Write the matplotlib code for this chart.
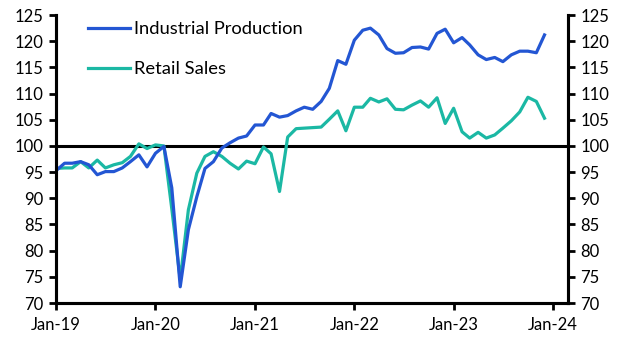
import pandas as pd
import matplotlib
matplotlib.use('Agg')
import matplotlib.pyplot as plt
import matplotlib.dates as mdates

plt.rcParams['font.family'] = ['Lato', 'DejaVu Sans']

# Monthly index values, Jan-19 to Dec-23
dates = pd.date_range('2019-01-01', periods=60, freq='MS')

industrial_production = [
    95.3, 96.7, 96.7, 97.0, 96.4, 94.5, 95.1, 95.1, 95.8, 97.0, 98.3, 96.0,
    98.6, 99.9, 92.0, 73.1, 84.0, 90.3, 95.7, 97.0, 99.6, 100.6, 101.5, 101.9,
    104.0, 104.0, 106.2, 105.5, 105.8, 106.7, 107.4, 107.0, 108.5, 111.0, 116.3, 115.6,
    120.2, 122.1, 122.5, 121.2, 118.6, 117.7, 117.8, 118.8, 118.9, 118.5, 121.5, 122.3,
    119.7, 120.7, 119.3, 117.4, 116.5, 116.9, 116.1, 117.4, 118.1, 118.1, 117.8, 121.2,
]

retail_sales = [
    95.7, 95.8, 95.8, 97.0, 95.8, 97.3, 95.8, 96.4, 96.8, 98.0, 100.4, 99.5,
    100.2, 100.0, 88.0, 74.5, 87.8, 94.8, 98.0, 98.9, 98.0, 96.7, 95.6, 97.1,
    96.6, 99.8, 98.5, 91.3, 101.7, 103.3, 103.4, 103.5, 103.6, 105.1, 106.7, 102.9,
    107.4, 107.4, 109.1, 108.4, 109.0, 107.0, 106.9, 107.8, 108.6, 107.4, 109.2, 104.3,
    107.2, 102.7, 101.5, 102.6, 101.5, 102.1, 103.4, 104.8, 106.5, 109.3, 108.5, 105.3,
]

y_ticks = [70, 75, 80, 85, 90, 95, 100, 105, 110, 115, 120, 125]

blue = '#2356d3'
teal = '#1bb8a4'

fig = plt.figure(figsize=(6.31, 3.42), dpi=100)
ax = fig.add_axes([0.089, 0.114, 0.811, 0.842])

ax.axhline(100, color='black', lw=2.2, zorder=1)
ax.plot(dates, industrial_production, color=blue, lw=2.3, label='Industrial Production', zorder=3)
ax.plot(dates, retail_sales, color=teal, lw=2.3, label='Retail Sales', zorder=2)

ax.set_ylim(70, 125)
ax.set_yticks(y_ticks)
ax.set_xlim(pd.Timestamp('2019-01-01'), pd.Timestamp('2024-02-25'))
ax.xaxis.set_major_locator(mdates.YearLocator())
ax.xaxis.set_major_formatter(mdates.DateFormatter('%b-%y'))

ax2 = ax.twinx()
ax2.set_ylim(70, 125)
ax2.set_yticks(y_ticks)

for a in (ax, ax2):
    a.spines['top'].set_visible(False)
    for s in ('left', 'right', 'bottom'):
        a.spines[s].set_linewidth(2.2)
    a.tick_params(width=2, length=5, labelsize=12, pad=4)

ax.tick_params(axis='x', pad=5)

ax.legend(loc='upper left', bbox_to_anchor=(0.03, 1.035), frameon=False,
          fontsize=13.2, handlelength=2.3, handletextpad=0.2, labelspacing=1.3)

fig.savefig('out.png', dpi=100)
